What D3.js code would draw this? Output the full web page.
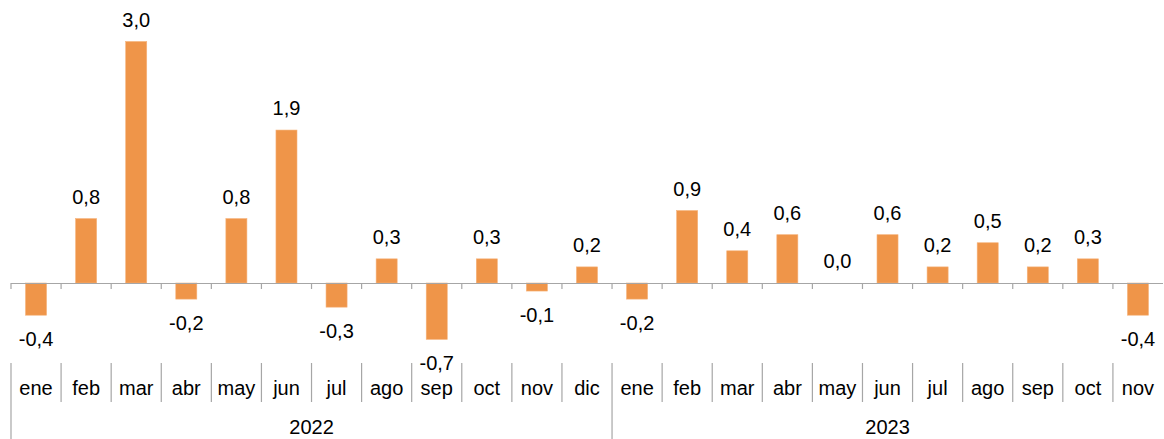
<!DOCTYPE html>
<html>
<head>
<meta charset="utf-8">
<script src="https://cdn.jsdelivr.net/npm/d3@7"></script>
<style>
  body { margin: 0; background: #fff; }
  svg { display: block; font-family: "Liberation Sans", Arial, sans-serif; }
</style>
</head>
<body>
<svg id="chart" width="1164" height="439"></svg>
<script>
// monthly variation, %
const years = ["2022", "2023"];
const months2022 = ["ene", "feb", "mar", "abr", "may", "jun", "jul", "ago", "sep", "oct", "nov", "dic"];
const months2023 = ["ene", "feb", "mar", "abr", "may", "jun", "jul", "ago", "sep", "oct", "nov"];
const values2022 = [-0.4, 0.8, 3.0, -0.2, 0.8, 1.9, -0.3, 0.3, -0.7, 0.3, -0.1, 0.2];
const values2023 = [-0.2, 0.9, 0.4, 0.6, 0.0, 0.6, 0.2, 0.5, 0.2, 0.3, -0.4];

const data = [
  ...months2022.map((m, i) => ({ key: "2022-" + m, month: m, year: "2022", value: values2022[i] })),
  ...months2023.map((m, i) => ({ key: "2023-" + m, month: m, year: "2023", value: values2023[i] }))
];

const left = 11, right = 1163;
const zeroY = 283, pxPerUnit = 80.5;
const fontSize = 20;
const fmt = (v) => d3.format(".1f")(v).replace(".", ",").replace("\u2212", "-");

const x = d3.scaleBand()
  .domain(data.map((d) => d.key))
  .range([left, right])
  .paddingInner(0.58)
  .paddingOuter(0.29);

const y = d3.scaleLinear()
  .domain([-1, 3.3])
  .range([zeroY + 1 * pxPerUnit, zeroY - 3.3 * pxPerUnit]);

const svg = d3.select("#chart");
const step = x.step();
const edge = (i) => left + i * step;

svg.append("g")
  .selectAll("rect")
  .data(data)
  .enter()
  .append("rect")
  .attr("x", (d) => x(d.key))
  .attr("y", (d) => y(Math.max(0, d.value)))
  .attr("width", x.bandwidth())
  .attr("height", (d) => Math.abs(y(d.value) - y(0)))
  .attr("fill", "#ef9549")
  .attr("stroke", "#f6b27a")
  .attr("stroke-width", 0.6);

// zero axis + ticks
svg.append("line")
  .attr("x1", left).attr("x2", right)
  .attr("y1", y(0) + 0.5).attr("y2", y(0) + 0.5)
  .attr("stroke", "#a6a6a6").attr("stroke-width", 1.2);

svg.append("g")
  .selectAll("line")
  .data(d3.range(data.length))
  .enter()
  .append("line")
  .attr("x1", (i) => edge(i)).attr("x2", (i) => edge(i))
  .attr("y1", y(0)).attr("y2", y(0) + 6)
  .attr("stroke", "#a6a6a6").attr("stroke-width", 1.2);

// value labels
svg.append("g")
  .selectAll("text")
  .data(data)
  .enter()
  .append("text")
  .attr("x", (d) => x(d.key) + x.bandwidth() / 2)
  .attr("y", (d) => d.value >= 0 ? y(d.value) - 15 : y(d.value) + 31)
  .attr("text-anchor", "middle")
  .attr("font-size", fontSize)
  .attr("fill", "#000")
  .text((d) => fmt(d.value));

// category separators
const yearStarts = [0, months2022.length];
svg.append("g")
  .selectAll("line")
  .data(d3.range(data.length))
  .enter()
  .append("line")
  .attr("x1", (i) => edge(i)).attr("x2", (i) => edge(i))
  .attr("y1", 363)
  .attr("y2", (i) => yearStarts.includes(i) ? 439 : 402)
  .attr("stroke", "#a6a6a6").attr("stroke-width", 1.2);

// month labels
svg.append("g")
  .selectAll("text")
  .data(data)
  .enter()
  .append("text")
  .attr("x", (d) => x(d.key) + x.bandwidth() / 2)
  .attr("y", 395)
  .attr("text-anchor", "middle")
  .attr("font-size", fontSize)
  .attr("fill", "#000")
  .text((d) => d.month);

// year labels
const yearCounts = [months2022.length, months2023.length];
svg.append("g")
  .selectAll("text")
  .data(years)
  .enter()
  .append("text")
  .attr("x", (d, i) => (edge(yearStarts[i]) + edge(yearStarts[i] + yearCounts[i])) / 2)
  .attr("y", 434)
  .attr("text-anchor", "middle")
  .attr("font-size", fontSize)
  .attr("fill", "#000")
  .text((d) => d);
</script>
</body>
</html>
